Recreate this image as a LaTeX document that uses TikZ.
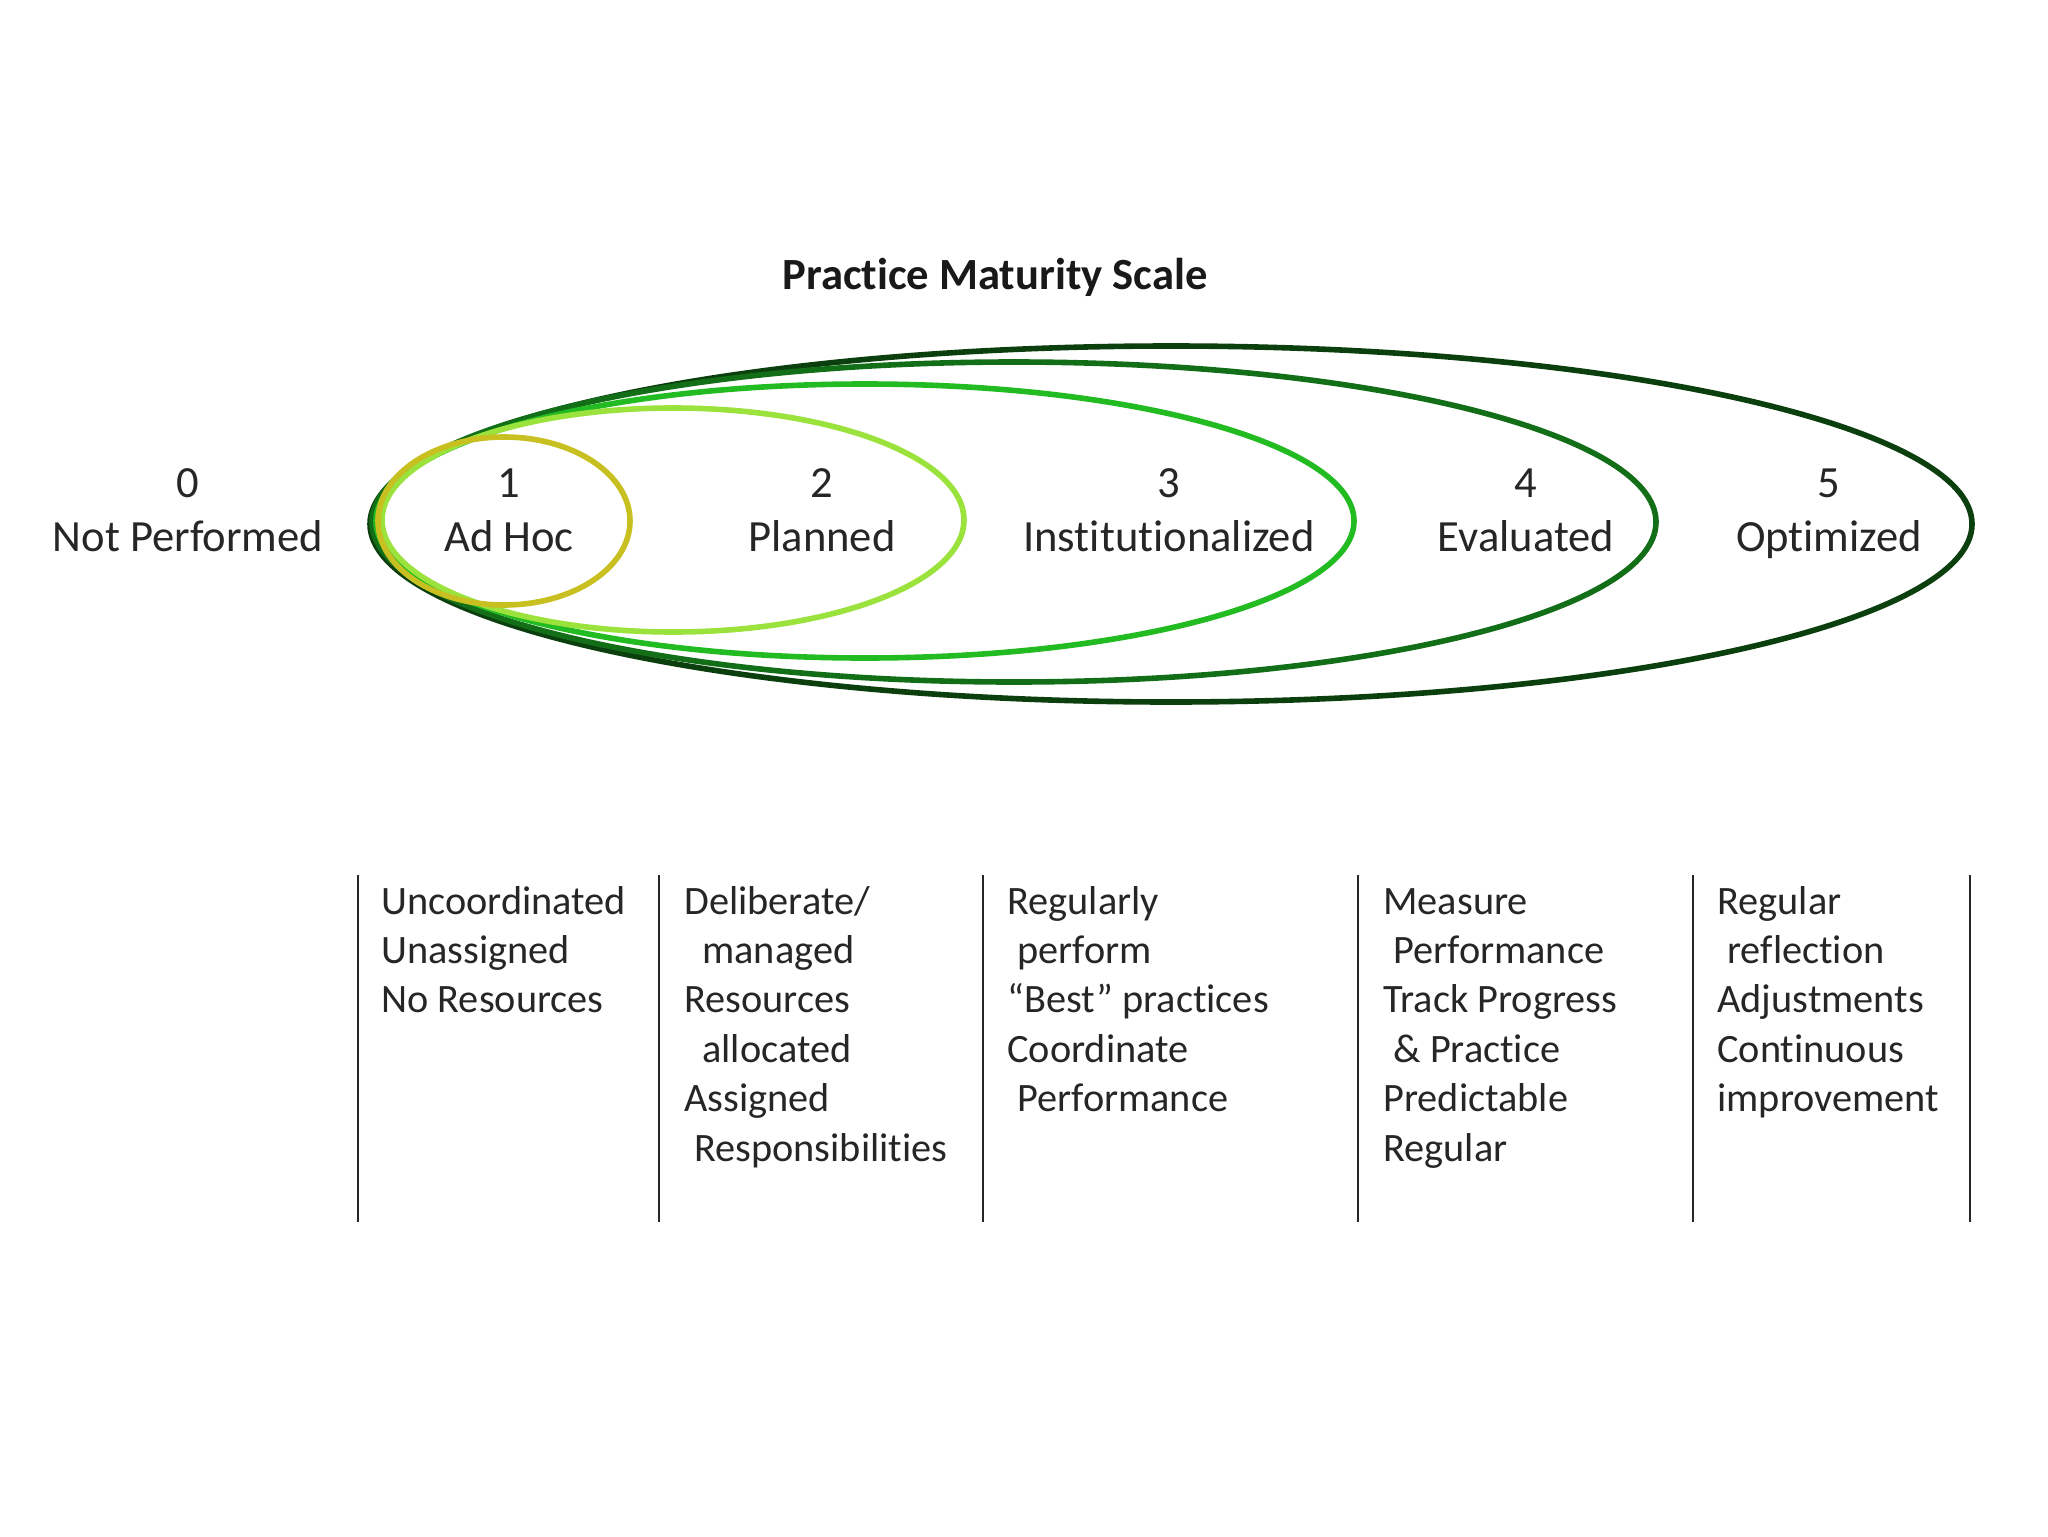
\documentclass[tikz,border=0pt]{standalone}
\usepackage{fontspec}
\setmainfont{Carlito}[Ligatures=NoCommon]
\usetikzlibrary{shapes.geometric}
\definecolor{cOne}{HTML}{C8C020}
\definecolor{cTwo}{HTML}{9BE23C}
\definecolor{cThree}{HTML}{22BB22}
\definecolor{cFour}{HTML}{136E18}
\definecolor{cFive}{HTML}{0B400E}
\newcommand\myind[1]{\hspace*{#1pt}}
\tikzset{
  ring/.style={ellipse, draw=#1, line width=2.8pt, inner sep=0pt, outer sep=0pt},
  lvl/.style={font=\fontsize{22.3pt}{27pt}\selectfont, anchor=base, inner sep=0pt, text=black!85},
  desc/.style={font=\fontsize{20.15pt}{24.7pt}\selectfont, anchor=base west, inner sep=0pt, text=black!85},
  ttl/.style={font=\fontsize{22.3pt}{27pt}\selectfont\bfseries, anchor=base, inner sep=0pt, text=black!90},
  sep/.style={line width=1pt, draw=black!85}
}
\begin{document}
\begin{tikzpicture}[x=0.5pt,y=-0.5pt]
\useasboundingbox[fill=white] (0,0) rectangle (2048,1536);
% title
\node[ttl] (title) at (995,289) {Practice Maturity Scale};
% ellipses (sizes in pt = half of pixel size)
\node[ring=cFive, minimum width=801pt, minimum height=178pt] (e5) at (1171,524) {};
\node[ring=cFour, minimum width=642pt, minimum height=160pt] (e4) at (1014,522) {};
\node[ring=cThree, minimum width=489pt, minimum height=137pt] (e3) at (865,521) {};
\node[ring=cTwo, minimum width=291pt, minimum height=112pt] (e2) at (673,520) {};
\node[ring=cOne, minimum width=126pt, minimum height=84pt] (e1) at (504,521) {};
% level labels
\node[lvl] (n0) at (188,497) {0};
\node[lvl] (t0) at (188,551) {Not Performed};
\node[lvl] (n1) at (509,497) {1};
\node[lvl] (t1) at (509,551) {Ad Hoc};
\node[lvl] (n2) at (822,497) {2};
\node[lvl] (t2) at (822,551) {Planned};
\node[lvl] (n3) at (1169,497) {3};
\node[lvl] (t3) at (1169,551) {Institutionalized};
\node[lvl] (n4) at (1526,497) {4};
\node[lvl] (t4) at (1526,551) {Evaluated};
\node[lvl] (n5) at (1829,497) {5};
\node[lvl] (t5) at (1829,551) {Optimized};
% separator lines
\foreach \x [count=\i] in {358,659,983,1358,1693,1970}{
  \coordinate (s\i t) at (\x,875);
  \coordinate (s\i b) at (\x,1222);
  \draw[sep] (s\i t) -- (s\i b);
}
% descriptions
\foreach \t [count=\i] in {Uncoordinated,Unassigned,No Resources}
  \node[desc] (da\i) at (381,{914+49.4*(\i-1)}) {\t};
\foreach \t [count=\i] in {Deliberate/,\myind{9}managed,Resources,\myind{9}allocated,Assigned,\myind{5}Responsibilities}
  \node[desc] (db\i) at (684,{914+49.4*(\i-1)}) {\t};
\foreach \t [count=\i] in {Regularly,\myind{5}perform,“Best” practices,Coordinate,\myind{5}Performance}
  \node[desc] (dc\i) at (1007,{914+49.4*(\i-1)}) {\t};
\foreach \t [count=\i] in {Measure,\myind{5}Performance,Track Progress,\myind{5}\& Practice,Predictable,Regular}
  \node[desc] (dd\i) at (1383,{914+49.4*(\i-1)}) {\t};
\foreach \t [count=\i] in {Regular,\myind{5}reflection,Adjustments,Continuous,improvement}
  \node[desc] (de\i) at (1717,{914+49.4*(\i-1)}) {\t};
\end{tikzpicture}
\end{document}
